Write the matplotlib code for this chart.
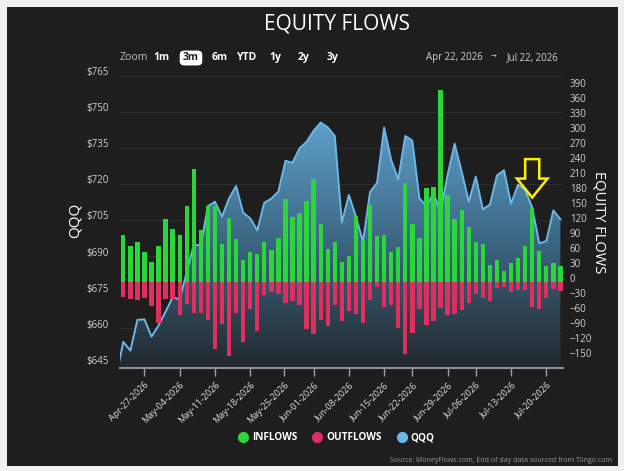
import numpy as np
import pandas as pd
import matplotlib
matplotlib.use('Agg')
import matplotlib.pyplot as plt
import matplotlib.transforms as mtransforms
from matplotlib.patches import Rectangle, FancyBboxPatch, Polygon
from matplotlib.lines import Line2D
from matplotlib.colors import LinearSegmentedColormap

plt.rcParams['font.family'] = ['Open Sans', 'DejaVu Sans']

# trading days shown (Apr 22 - Jul 22 2026), market holidays left out
holidays = ['2026-05-25', '2026-06-19', '2026-07-03']
days = pd.bdate_range('2026-04-22', '2026-07-22')
days = days[~days.isin(pd.to_datetime(holidays))]

inflows = [95, 72, 81, 60, 41, 73, 127, 107, 95, 154,
           227, 105, 154, 154, 76, 128, 87, 45, 61, 56,
           81, 65, 88, 167, 130, 139, 164, 208, 116, 67,
           81, 40, 52, 132, 84, 156, 93, 95, 60, 71,
           200, 116, 88, 190, 191, 386, 176, 127, 146, 111,
           80, 77, 35, 44, 23, 39, 49, 72, 150, 63,
           32, 39, 32]
outflows = [-30, -34, -35, -32, -47, -82, -34, -34, -65, -43,
            -62, -61, -75, -133, -84, -148, -61, -120, -54, -97,
            -25, -20, -23, -41, -37, -46, -94, -104, -75, -87,
            -45, -77, -57, -63, -82, -35, -10, -50, -45, -92,
            -144, -102, -53, -86, -77, -52, -65, -63, -55, -41,
            -23, -32, -37, -12, -9, -20, -15, -15, -50, -53,
            -31, -14, -17]
# QQQ close, first value is Apr 21 (only its segment into the window shows)
qqq = [640.0,
       654.4, 650.7, 663.5, 663.7, 656.5, 661.2, 666.9, 672.9, 672.0, 683.4,
       694.8, 694.4, 710.7, 712.6, 706.4, 714.0, 719.1, 708.1, 705.7, 700.7,
       712.2, 713.9, 716.8, 729.6, 728.8, 734.8, 737.5, 742.1, 745.5, 743.5,
       739.9, 704.0, 715.4, 706.4, 696.0, 716.6, 720.5, 743.4, 729.9, 721.9,
       739.9, 738.0, 714.0, 710.8, 716.1, 708.4, 723.7, 736.7, 725.1, 712.6,
       723.0, 709.4, 711.4, 723.5, 725.7, 711.8, 719.7, 717.6, 710.2, 695.3,
       696.2, 709.0, 705.3]

mondays = pd.date_range('2026-04-27', '2026-07-20', freq='7D')
tick_labels = [d.strftime('%b-%d-%Y') for d in mondays]
arrow_day = pd.Timestamp('2026-07-16')

x = np.arange(len(days))
x_q = np.arange(-1, len(days))
tick_pos = np.interp(mondays.values.astype('int64'), days.values.astype('int64'), x)

W, H = 624, 471
fig = plt.figure(figsize=(W / 100, H / 100), dpi=100, facecolor='#f0f0f0')
fig.patches.append(Rectangle((7 / W, 5 / H), 611 / W, 459 / H, transform=fig.transFigure,
                             facecolor='#1e1e1e', edgecolor='none', zorder=-1))

def fx(px):
    return px / W

def fy(py):
    return 1 - py / H

ax = fig.add_axes([fx(120), fy(368), (563 - 120) / W, (368 - 72) / H])
ax.set_facecolor('none')
ax2 = ax.twinx()
ax2.set_facecolor('none')

xlim = (-0.47, 62.37)
ylim = (643.5, 766.5)

# QQQ area with vertical gradient
cmap = LinearSegmentedColormap.from_list('qqq', ['#23292e', '#3b6580', '#5e9fc9'])
grad = np.linspace(0, 1, 256).reshape(-1, 1)
img = ax.imshow(grad, extent=[xlim[0], xlim[1], ylim[0], max(qqq)], origin='lower',
                aspect='auto', cmap=cmap, zorder=1)
area = ax.fill_between(x_q, qqq, ylim[0] - 5, facecolor='none', edgecolor='none')
img.set_clip_path(area.get_paths()[0], transform=ax.transData)
ax.plot(x_q, qqq, color='#6bb8e8', lw=1.4, zorder=2)

ax.set_xlim(xlim)
ax.set_ylim(ylim)
ax.set_yticks(range(645, 766, 15))
ax.set_yticklabels(['$%d' % v for v in range(645, 766, 15)])
ax.yaxis.grid(True, color='#2f2f2f', lw=0.8)
ax.set_axisbelow(True)
ax.tick_params(axis='y', length=0, pad=8, labelsize=7, labelcolor='#cfcfcf')
ax.set_xticks(tick_pos)
ax.set_xticklabels(tick_labels, rotation=45, ha='right', rotation_mode='anchor')
ax.tick_params(axis='x', length=6, width=1, color='#9aa0a8', pad=3, labelsize=6.5,
               labelcolor='#e0e0e0')
for s in ['top', 'left', 'right']:
    ax.spines[s].set_visible(False)
ax.spines['bottom'].set_color('#8a9099')
ax.spines['bottom'].set_linewidth(1.5)

# flows on the right axis
ax2.bar(x, inflows, width=0.62, color='#2bd63a', zorder=3)
ax2.bar(x, outflows, width=0.62, color='#de2f5f', zorder=3)
ax2.set_ylim(-171.8, 421.7)
ax2.set_yticks(range(-150, 391, 30))
ax2.tick_params(axis='y', length=0, pad=5, labelsize=7, labelcolor='#cfcfcf')
for s in ax2.spines.values():
    s.set_visible(False)

shift = mtransforms.ScaledTranslation(0, 0.045, fig.dpi_scale_trans)
for lab in ax.get_yticklabels() + ax2.get_yticklabels():
    lab.set_transform(lab.get_transform() + shift)

# yellow arrow over the Jul-16 inflow
c = days.get_loc(arrow_day)
tip = inflows[c] + 20
verts = [(c - 1.0, tip + 77), (c + 1.0, tip + 77), (c + 1.0, tip + 38), (c + 2.17, tip + 38),
         (c, tip), (c - 2.17, tip + 38), (c - 1.0, tip + 38)]
ax2.add_patch(Polygon(verts, closed=True, fill=False, edgecolor='#fff000', lw=1.8,
                      joinstyle='miter', zorder=5))

# texts
fig.text(fx(337), fy(24), 'EQUITY FLOWS', ha='center', va='center', fontsize=15, color='white')
fig.text(fx(75), fy(220), 'QQQ', rotation=90, ha='center', va='center', fontsize=11,
         color='white')
fig.text(fx(599), fy(222), 'EQUITY FLOWS', rotation=270, ha='center', va='center',
         fontsize=10.5, color='white')

fig.text(fx(120), fy(57.5), 'Zoom', ha='left', va='center', fontsize=7.5, color='#c0c0c0')
fig.patches.append(FancyBboxPatch((fx(181), fy(64.5)), (201 - 181) / W, 13 / H,
                                  boxstyle='round,pad=0.002,rounding_size=0.008',
                                  transform=fig.transFigure, facecolor='white',
                                  edgecolor='none', zorder=1))
buttons = ['1m', '3m', '6m', 'YTD', '1y', '2y', '3y']
button_x = [161.5, 191, 220, 247.5, 275.5, 304, 332.5]
for b, bx in zip(buttons, button_x):
    fig.text(fx(bx), fy(57.5), b, ha='center', va='center', fontsize=7.5, fontweight='bold',
             color='#1e1e1e' if b == '3m' else 'white', zorder=2)
fig.text(fx(483), fy(57.5), 'Apr 22, 2026', ha='right', va='center', fontsize=7,
         color='#cfcfcf')
fig.text(fx(494), fy(57.5), '\u2192', ha='center', va='center', fontsize=5, color='#cfcfcf')
fig.text(fx(559), fy(57.5), 'Jul 22, 2026', ha='right', va='center', fontsize=7,
         color='#cfcfcf')

handles = [Line2D([], [], ls='none', marker='o', markersize=7, color=col)
           for col in ['#2bd63a', '#de2f5f', '#6bb8e8']]
fig.legend(handles, ['INFLOWS', 'OUTFLOWS', 'QQQ'], loc='center', ncol=3,
           bbox_to_anchor=(fx(337), fy(438)), frameon=False, handlelength=0.8,
           handletextpad=0.5, columnspacing=1.6, labelcolor='white',
           prop={'weight': 'bold', 'size': 7.2})

fig.text(fx(612), fy(460), 'Source: MoneyFlows.com, End of day data sourced from Tiingo.com',
         ha='right', va='center', fontsize=5, color='#9a9a9a')

fig.savefig('out.png', dpi=100, facecolor=fig.get_facecolor())
